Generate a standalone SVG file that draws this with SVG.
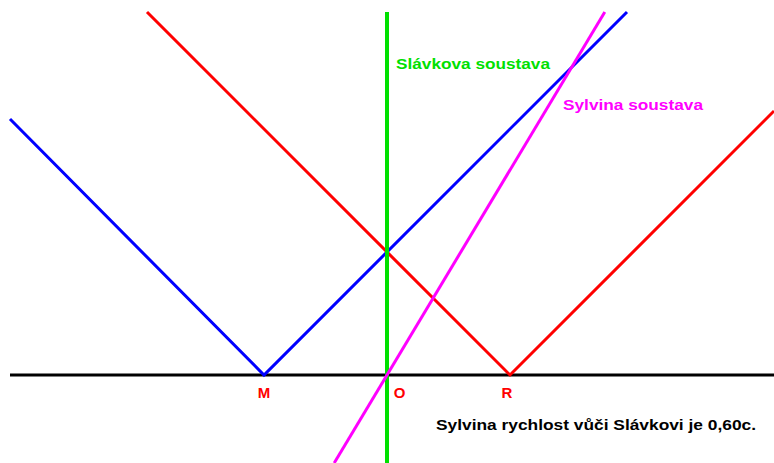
<svg xmlns="http://www.w3.org/2000/svg" width="774" height="463" viewBox="0 0 774 463">
<style>
.l{fill:none;stroke-width:3;stroke-linecap:butt}
.t{font-family:"Liberation Sans",Arial,sans-serif;font-weight:bold;font-size:15px}
</style>
<rect width="774" height="463" fill="#ffffff"/>
<g id="connectors">
<line id="axis-x" class="l" x1="10" y1="375" x2="774" y2="375" stroke="#000000"/>
<polyline id="blue" class="l" points="10,119 264,375 627,12" stroke="#0000ff"/>
<polyline id="red" class="l" points="147,12 510,375 774,111" stroke="#ff0000"/>
<line id="slavek" x1="387" y1="12" x2="387" y2="463" stroke="#00e000" stroke-width="4"/>
<line id="sylva" class="l" x1="334.2" y1="463" x2="604.8" y2="12" stroke="#ff00ff"/>
</g>
<g id="label-slavek"><text class="t" x="396" y="69" fill="#00e000" textLength="154" lengthAdjust="spacingAndGlyphs">Slávkova soustava</text></g>
<g id="label-sylva"><text class="t" x="563" y="110" fill="#ff00ff" textLength="140" lengthAdjust="spacingAndGlyphs">Sylvina soustava</text></g>
<g id="M"><text class="t" x="264" y="398" fill="#ff0000" text-anchor="middle">M</text></g>
<g id="O"><text class="t" x="399.5" y="398" fill="#ff0000" text-anchor="middle">O</text></g>
<g id="R"><text class="t" x="507" y="398" fill="#ff0000" text-anchor="middle">R</text></g>
<g id="note"><text class="t" x="436" y="430" fill="#000000" textLength="320" lengthAdjust="spacingAndGlyphs">Sylvina rychlost vůči Slávkovi je 0,60c.</text></g>
</svg>
